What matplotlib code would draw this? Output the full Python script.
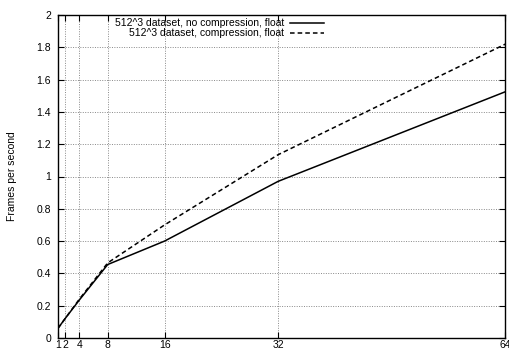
import matplotlib
matplotlib.use("Agg")
import matplotlib.pyplot as plt

plt.rcParams['font.family'] = ['Liberation Sans', 'DejaVu Sans']

# data
nodes = [1, 2, 4, 8, 16, 32, 64]
fps_nocomp = [0.06, 0.12, 0.235, 0.455, 0.60, 0.97, 1.525]
fps_comp = [0.06, 0.12, 0.24, 0.465, 0.70, 1.135, 1.82]
x_ticks = [1, 2, 4, 8, 16, 32, 64]
y_ticks = [0, 0.2, 0.4, 0.6, 0.8, 1, 1.2, 1.4, 1.6, 1.8, 2]
y_labels = ['0', '0.2', '0.4', '0.6', '0.8', '1', '1.2', '1.4', '1.6', '1.8', '2']

fig = plt.figure(figsize=(5.1, 3.53), dpi=100)
ax = fig.add_axes([0.1137, 0.0425, 0.991 - 0.1137, 0.9575 - 0.0425])

ax.plot(nodes, fps_nocomp, color='black', lw=1.1, ls='-',
        label='512^3 dataset, no compression, float')
ax.plot(nodes, fps_comp, color='black', lw=1.1, ls=(0, (3, 2)),
        label='512^3 dataset, compression, float')

ax.set_xlim(1, 64)
ax.set_ylim(0, 2)
ax.set_xticks(x_ticks)
ax.set_xticklabels([str(v) for v in x_ticks])
ax.set_yticks(y_ticks)
ax.set_yticklabels(y_labels)
ax.tick_params(direction='in', length=4, width=0.8, labelsize=7.5,
               top=True, right=True, pad=5)
ax.tick_params(axis='x', pad=1.5)
ax.grid(True, color='#888888', ls=(0, (1, 1.5)), lw=0.7)
for s in ax.spines.values():
    s.set_linewidth(1.0)

ax.set_ylabel('Frames per second', fontsize=7.5, labelpad=14)

leg = ax.legend(loc='upper right', bbox_to_anchor=(0.61, 1.012), frameon=False,
                fontsize=7.5, markerfirst=False, handlelength=3.2,
                handletextpad=0.6, labelspacing=0.0, borderaxespad=0.3)
for t in leg.get_texts():
    t.set_ha('right')

fig.savefig('out.png', dpi=100)
